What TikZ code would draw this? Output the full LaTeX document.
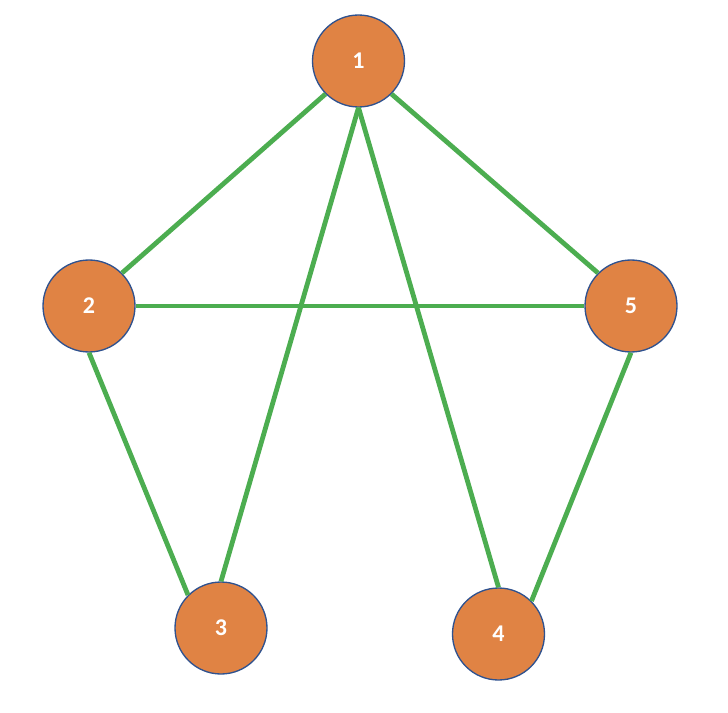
\documentclass[tikz,border=0pt]{standalone}
\usepackage{fontspec}
\setmainfont{Carlito}
\usepackage{xcolor}
\definecolor{vertexOrange}{RGB}{224,131,68}
\definecolor{vertexLine}{RGB}{47,82,143}
\definecolor{edgeGreen}{RGB}{76,173,80}

\begin{document}
\begin{tikzpicture}[
    x=0.75pt, y=-0.75pt,
    vertex/.style={circle, draw=vertexLine, line width=1pt, fill=vertexOrange, minimum size=69pt, inner sep=0pt, text=white, font=\fontsize{18}{20}\selectfont\bfseries},
    edge/.style={draw=edgeGreen, line width=3.6pt}
]
    \useasboundingbox (0,0) rectangle (728,713);

    \node[vertex] (v1) at (358.5,61) {1};
    \node[vertex] (v2) at (89,306) {2};
    \node[vertex] (v3) at (221,628) {3};
    \node[vertex] (v4) at (498.5,634) {4};
    \node[vertex] (v5) at (631,306) {5};

    \draw[edge] (v1.south west) -- (v2.north east);
    \draw[edge] (v1.south) -- (v3.north);
    \draw[edge] (v1.south) -- (v4.north);
    \draw[edge] (v1.south east) -- (v5.north west);
    \draw[edge] (v2.east) -- (v5.west);
    \draw[edge] (v2.south) -- (v3.north west);
    \draw[edge] (v5.south) -- (v4.north east);
\end{tikzpicture}
\end{document}
